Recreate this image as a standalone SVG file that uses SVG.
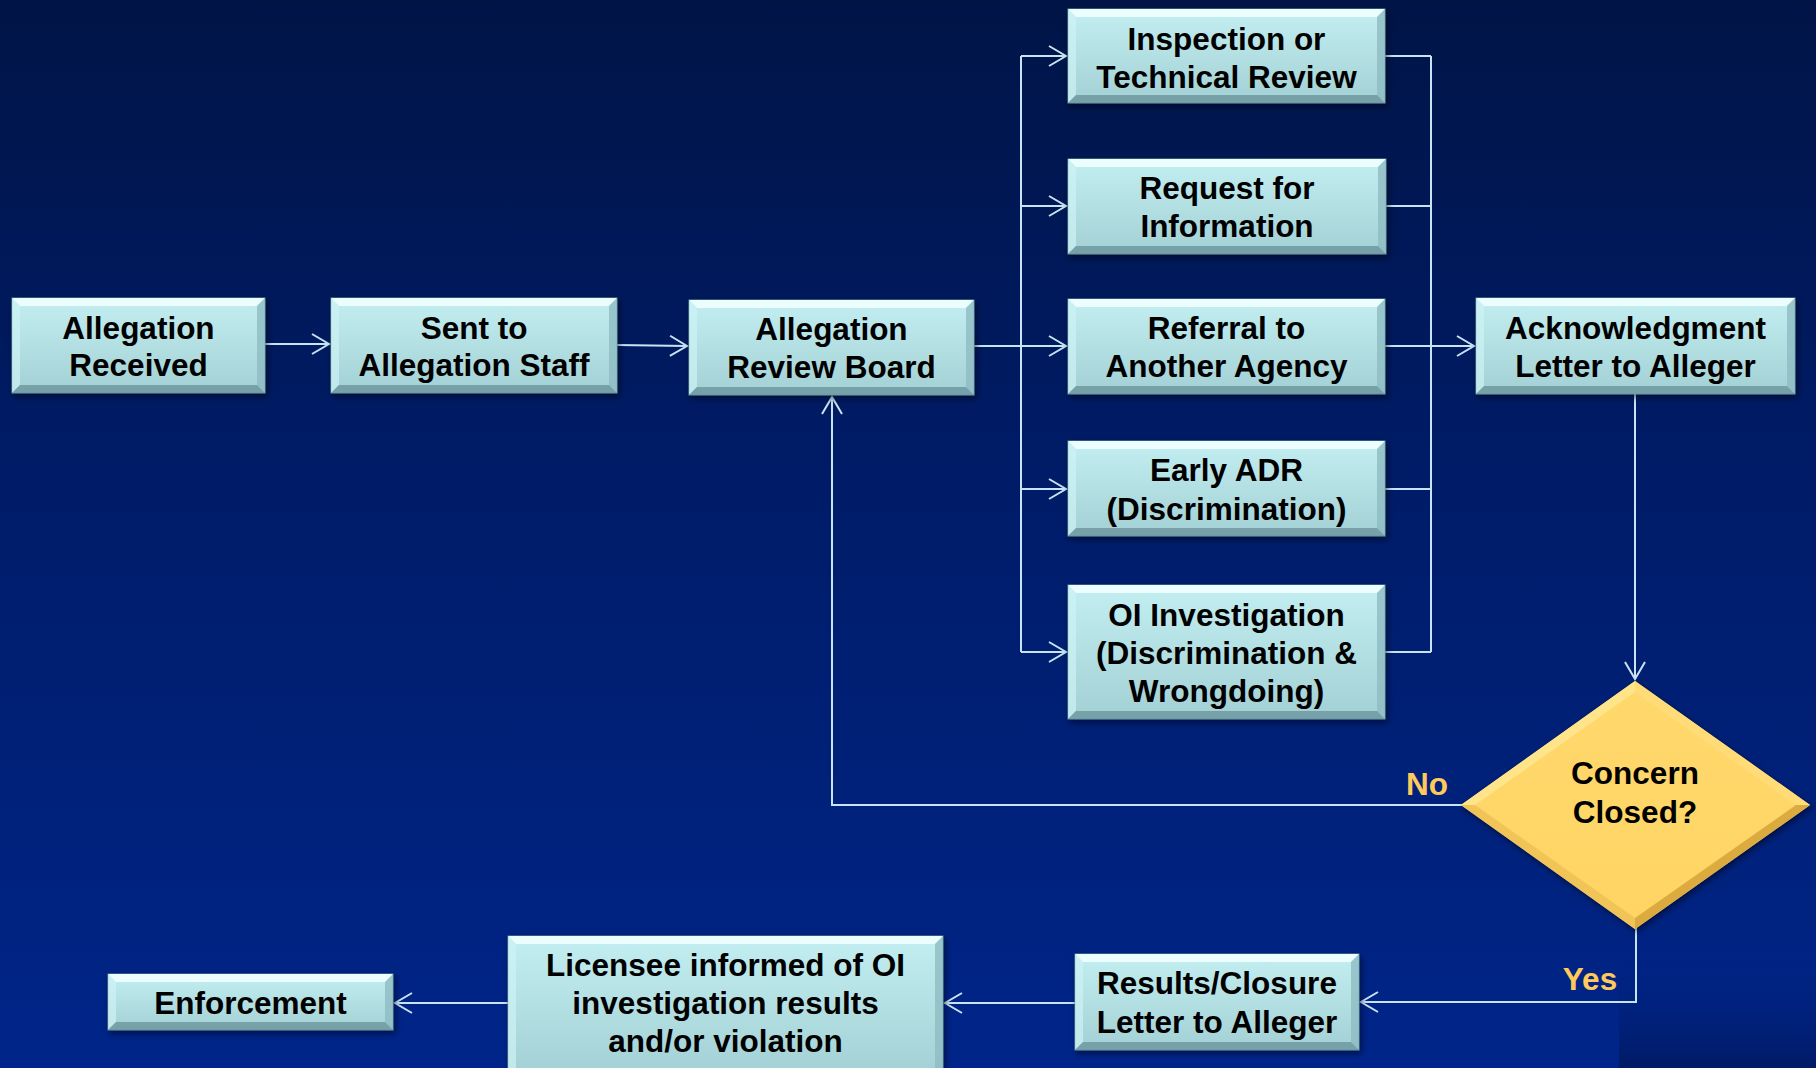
<svg xmlns="http://www.w3.org/2000/svg" width="1816" height="1068" viewBox="0 0 1816 1068">
<defs>
<linearGradient id="bg" x1="0" y1="0" x2="0" y2="1">
<stop offset="0" stop-color="#001446"/>
<stop offset="0.45" stop-color="#001c68"/>
<stop offset="1" stop-color="#00258a"/>
</linearGradient>
<linearGradient id="patch" x1="0" y1="0" x2="0" y2="1">
<stop offset="0" stop-color="#00237f" stop-opacity="0"/>
<stop offset="1" stop-color="#001a66"/>
</linearGradient>
<linearGradient id="face" x1="0" y1="0" x2="0" y2="1">
<stop offset="0" stop-color="#c3eff2"/>
<stop offset="1" stop-color="#a3d0d4"/>
</linearGradient>
<linearGradient id="gold" x1="0" y1="0" x2="0" y2="1">
<stop offset="0" stop-color="#ffd86c"/>
<stop offset="1" stop-color="#ffd464"/>
</linearGradient>
<filter id="shadow" x="-10%" y="-10%" width="120%" height="130%">
<feDropShadow dx="2" dy="3" stdDeviation="3" flood-color="#000010" flood-opacity="0.55"/>
</filter>
<marker id="arr" markerUnits="userSpaceOnUse" markerWidth="24" markerHeight="24" viewBox="-20 -12 24 24" refX="0" refY="0" orient="auto">
<path d="M-17,-10 L0,0 L-17,10" fill="none" stroke="#c8e4f2" stroke-width="2"/>
</marker>
</defs>
<style>
.face{fill:url(#face);stroke:#5f8c96;stroke-width:1}
.bt{fill:#ecfdfe}
.bl{fill:#cdf2f4}
.br{fill:#8fbcc2}
.bb{fill:#6f99a0}
.node text{font-family:"Liberation Sans",Arial,sans-serif;font-weight:bold;font-size:31.5px;fill:#000;text-anchor:middle}
.lbl{font-family:"Liberation Sans",Arial,sans-serif;font-weight:bold;font-size:31.5px;fill:#ffc95b;text-anchor:middle}
.conn path{fill:none;stroke:#c8e4f2;stroke-width:2}
</style>
<rect x="0" y="0" width="1816" height="1068" fill="url(#bg)"/>
<rect x="1619" y="950" width="197" height="118" fill="url(#patch)"/>

<g class="conn" id="connectors">
<path d="M265,344 H329" marker-end="url(#arr)"/>
<path d="M617,345 L687,346" marker-end="url(#arr)"/>
<path d="M974,346 H1021"/>
<path d="M1021,56 V652"/>
<path d="M1021,56 H1066" marker-end="url(#arr)"/>
<path d="M1021,206 H1066" marker-end="url(#arr)"/>
<path d="M1021,346 H1066" marker-end="url(#arr)"/>
<path d="M1021,489 H1066" marker-end="url(#arr)"/>
<path d="M1021,652 H1066" marker-end="url(#arr)"/>
<path d="M1385,56 H1431"/>
<path d="M1386,206 H1431"/>
<path d="M1385,489 H1431"/>
<path d="M1385,652 H1431"/>
<path d="M1431,56 V652"/>
<path d="M1385,346 H1474" marker-end="url(#arr)"/>
<path d="M1635,394 V679" marker-end="url(#arr)"/>
<path d="M1462,805 H832 V397" marker-end="url(#arr)"/>
<path d="M1636,928 V1002 H1361" marker-end="url(#arr)"/>
<path d="M1075,1003 H945" marker-end="url(#arr)"/>
<path d="M508,1003 H395" marker-end="url(#arr)"/>
</g>

<text class="lbl" x="1427" y="795">No</text>
<text class="lbl" x="1590" y="990">Yes</text>

<g class="node" id="allegation-received">
<g filter="url(#shadow)"><rect class="face" x="12" y="298" width="253" height="95"/></g>
<polygon class="bt" points="12,298 265,298 257,306 20,306"/>
<polygon class="bl" points="12,298 20,306 20,385 12,393" opacity="0.7"/>
<polygon class="br" points="265,298 265,393 257,385 257,306" opacity="0.8"/>
<polygon class="bb" points="12,393 265,393 257,385 20,385" opacity="0.85"/>
<text x="138.5" y="339">Allegation</text>
<text x="138.5" y="376">Received</text>
</g>

<g class="node" id="sent-to-staff">
<g filter="url(#shadow)"><rect class="face" x="331" y="298" width="286" height="95"/></g>
<polygon class="bt" points="331,298 617,298 609,306 339,306"/>
<polygon class="bl" points="331,298 339,306 339,385 331,393" opacity="0.7"/>
<polygon class="br" points="617,298 617,393 609,385 609,306" opacity="0.8"/>
<polygon class="bb" points="331,393 617,393 609,385 339,385" opacity="0.85"/>
<text x="474" y="339">Sent to</text>
<text x="474" y="376">Allegation Staff</text>
</g>

<g class="node" id="review-board">
<g filter="url(#shadow)"><rect class="face" x="689" y="300" width="285" height="95"/></g>
<polygon class="bt" points="689,300 974,300 966,308 697,308"/>
<polygon class="bl" points="689,300 697,308 697,387 689,395" opacity="0.7"/>
<polygon class="br" points="974,300 974,395 966,387 966,308" opacity="0.8"/>
<polygon class="bb" points="689,395 974,395 966,387 697,387" opacity="0.85"/>
<text x="831.5" y="340">Allegation</text>
<text x="831.5" y="378">Review Board</text>
</g>

<g class="node" id="inspection">
<g filter="url(#shadow)"><rect class="face" x="1068" y="9" width="317" height="94"/></g>
<polygon class="bt" points="1068,9 1385,9 1377,17 1076,17"/>
<polygon class="bl" points="1068,9 1076,17 1076,95 1068,103" opacity="0.7"/>
<polygon class="br" points="1385,9 1385,103 1377,95 1377,17" opacity="0.8"/>
<polygon class="bb" points="1068,103 1385,103 1377,95 1076,95" opacity="0.85"/>
<text x="1226.5" y="50">Inspection or</text>
<text x="1226.5" y="88">Technical Review</text>
</g>

<g class="node" id="request-info">
<g filter="url(#shadow)"><rect class="face" x="1068" y="159" width="318" height="95"/></g>
<polygon class="bt" points="1068,159 1386,159 1378,167 1076,167"/>
<polygon class="bl" points="1068,159 1076,167 1076,246 1068,254" opacity="0.7"/>
<polygon class="br" points="1386,159 1386,254 1378,246 1378,167" opacity="0.8"/>
<polygon class="bb" points="1068,254 1386,254 1378,246 1076,246" opacity="0.85"/>
<text x="1227" y="199">Request for</text>
<text x="1227" y="237">Information</text>
</g>

<g class="node" id="referral">
<g filter="url(#shadow)"><rect class="face" x="1068" y="299" width="317" height="95"/></g>
<polygon class="bt" points="1068,299 1385,299 1377,307 1076,307"/>
<polygon class="bl" points="1068,299 1076,307 1076,386 1068,394" opacity="0.7"/>
<polygon class="br" points="1385,299 1385,394 1377,386 1377,307" opacity="0.8"/>
<polygon class="bb" points="1068,394 1385,394 1377,386 1076,386" opacity="0.85"/>
<text x="1226.5" y="339">Referral to</text>
<text x="1226.5" y="377">Another Agency</text>
</g>

<g class="node" id="early-adr">
<g filter="url(#shadow)"><rect class="face" x="1068" y="441" width="317" height="95"/></g>
<polygon class="bt" points="1068,441 1385,441 1377,449 1076,449"/>
<polygon class="bl" points="1068,441 1076,449 1076,528 1068,536" opacity="0.7"/>
<polygon class="br" points="1385,441 1385,536 1377,528 1377,449" opacity="0.8"/>
<polygon class="bb" points="1068,536 1385,536 1377,528 1076,528" opacity="0.85"/>
<text x="1226.5" y="481">Early ADR</text>
<text x="1226.5" y="520">(Discrimination)</text>
</g>

<g class="node" id="oi-investigation">
<g filter="url(#shadow)"><rect class="face" x="1068" y="585" width="317" height="134"/></g>
<polygon class="bt" points="1068,585 1385,585 1377,593 1076,593"/>
<polygon class="bl" points="1068,585 1076,593 1076,711 1068,719" opacity="0.7"/>
<polygon class="br" points="1385,585 1385,719 1377,711 1377,593" opacity="0.8"/>
<polygon class="bb" points="1068,719 1385,719 1377,711 1076,711" opacity="0.85"/>
<text x="1226.5" y="626">OI Investigation</text>
<text x="1226.5" y="664">(Discrimination &amp;</text>
<text x="1226.5" y="702">Wrongdoing)</text>
</g>

<g class="node" id="acknowledgment">
<g filter="url(#shadow)"><rect class="face" x="1476" y="298" width="319" height="96"/></g>
<polygon class="bt" points="1476,298 1795,298 1787,306 1484,306"/>
<polygon class="bl" points="1476,298 1484,306 1484,386 1476,394" opacity="0.7"/>
<polygon class="br" points="1795,298 1795,394 1787,386 1787,306" opacity="0.8"/>
<polygon class="bb" points="1476,394 1795,394 1787,386 1484,386" opacity="0.85"/>
<text x="1635.5" y="339">Acknowledgment</text>
<text x="1635.5" y="377">Letter to Alleger</text>
</g>

<g class="node" id="concern-closed">
<g filter="url(#shadow)"><polygon points="1635,681 1810,805 1635,929 1461,805" fill="url(#gold)"/></g>
<polygon points="1635,681 1461,805 1475,805 1635,692" fill="#ffe48a"/>
<polygon points="1635,681 1810,805 1796,805 1635,692" fill="#ffdc78"/>
<polygon points="1461,805 1635,929 1635,918 1475,805" fill="#f0c457"/>
<polygon points="1810,805 1635,929 1635,918 1796,805" fill="#dcab3f"/>
<text x="1635" y="784">Concern</text>
<text x="1635" y="823">Closed?</text>
</g>

<g class="node" id="results-closure">
<g filter="url(#shadow)"><rect class="face" x="1075" y="954" width="284" height="96"/></g>
<polygon class="bt" points="1075,954 1359,954 1351,962 1083,962"/>
<polygon class="bl" points="1075,954 1083,962 1083,1042 1075,1050" opacity="0.7"/>
<polygon class="br" points="1359,954 1359,1050 1351,1042 1351,962" opacity="0.8"/>
<polygon class="bb" points="1075,1050 1359,1050 1351,1042 1083,1042" opacity="0.85"/>
<text x="1217" y="994">Results/Closure</text>
<text x="1217" y="1033">Letter to Alleger</text>
</g>

<g class="node" id="licensee-informed">
<g filter="url(#shadow)"><rect class="face" x="508" y="936" width="435" height="140"/></g>
<polygon class="bt" points="508,936 943,936 935,944 516,944"/>
<polygon class="bl" points="508,936 516,944 516,1068 508,1076" opacity="0.7"/>
<polygon class="br" points="943,936 943,1076 935,1068 935,944" opacity="0.8"/>
<text x="725.5" y="976">Licensee informed of OI</text>
<text x="725.5" y="1014">investigation results</text>
<text x="725.5" y="1052">and/or violation</text>
</g>

<g class="node" id="enforcement">
<g filter="url(#shadow)"><rect class="face" x="108" y="974" width="285" height="56"/></g>
<polygon class="bt" points="108,974 393,974 385,982 116,982"/>
<polygon class="bl" points="108,974 116,982 116,1022 108,1030" opacity="0.7"/>
<polygon class="br" points="393,974 393,1030 385,1022 385,982" opacity="0.8"/>
<polygon class="bb" points="108,1030 393,1030 385,1022 116,1022" opacity="0.85"/>
<text x="250.5" y="1014">Enforcement</text>
</g>
</svg>
